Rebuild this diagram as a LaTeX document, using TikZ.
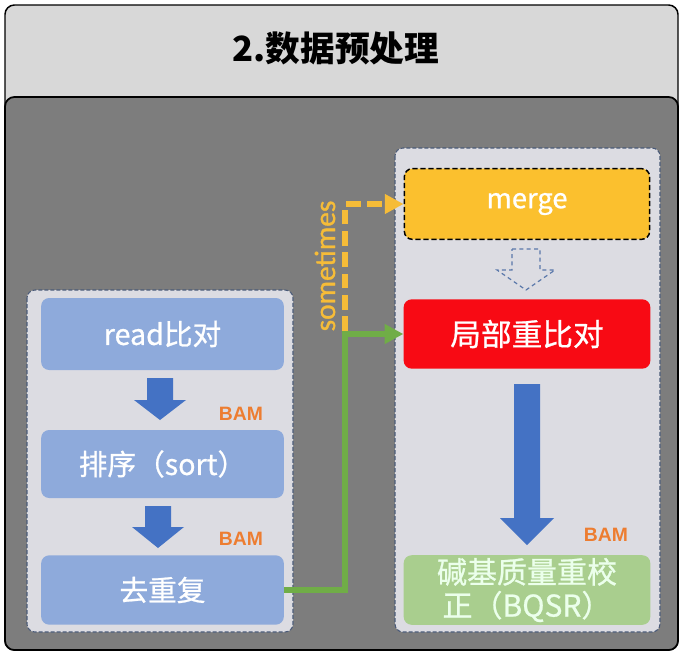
\documentclass[tikz,border=0pt]{standalone}
\usepackage{fontspec}
\setmainfont{Noto Sans CJK SC}
\newfontfamily\boxfont{Noto Sans CJK SC}[FakeBold=0.8]
\newfontfamily\calfont{Carlito}[FakeBold=1]
\newfontfamily\bamfont{Liberation Sans}
\usetikzlibrary{arrows.meta}
\definecolor{topgray}{HTML}{D8D8D8}
\definecolor{backgray}{HTML}{7D7D7D}
\definecolor{groupfill}{HTML}{DCDCE2}
\definecolor{groupline}{HTML}{4A5A78}
\definecolor{boxblue}{HTML}{8EAADB}
\definecolor{arrowblue}{HTML}{4472C4}
\definecolor{hollowline}{HTML}{5A78AA}
\definecolor{mergeyellow}{HTML}{FBC02E}
\definecolor{realignred}{HTML}{F80A14}
\definecolor{bqsrgreen}{HTML}{A9CE8E}
\definecolor{linkgreen}{HTML}{70AD47}
\definecolor{linkyellow}{HTML}{F6BC38}
\definecolor{bamorange}{HTML}{ED7D31}
\tikzset{
  stepbox/.style={rectangle, rounded corners=6pt, minimum width=182pt, minimum height=52pt, text=white, font=\boxfont\fontsize{21.5}{25}\selectfont, inner sep=2pt},
  groupbox/.style={draw=groupline, fill=groupfill, dashed, dash pattern=on 3pt off 1.5pt, line width=0.8pt, rounded corners=6pt},
  bamlabel/.style={text=bamorange, font=\bamfont\bfseries\fontsize{14.5}{16}\selectfont, inner sep=0pt},
  blockarrow/.style={fill=arrowblue},
  link/.style={line width=4.2pt, rounded corners=0pt},
}
\newcommand{\downblock}[7]{%
  % #1 style, #2 x, #3 ytop, #4 yhead, #5 ytip, #6 half shaft, #7 half head
  \path[#1] (#2-#6,#3) -- (#2+#6,#3) -- (#2+#6,#4) -- (#2+#7,#4) -- (#2,#5) -- (#2-#7,#4) -- (#2-#6,#4) -- cycle;}
\begin{document}
\begin{tikzpicture}[x=0.75pt,y=-0.75pt]
\useasboundingbox (0,0) rectangle (683,654);
\fill[white] (0,0) rectangle (683,654);
% outer frames
\draw[fill=topgray, rounded corners=7pt, line width=1.1pt] (5,5) rectangle (678,650);
\node[font=\bfseries\fontsize{26}{30}\selectfont, text=black] (title) at (336,48) {2.数据预处理};
\draw[fill=backgray, rounded corners=7pt, line width=1.3pt] (5,97) rectangle (678,650);
% groups
\draw[groupbox] (27,290) rectangle (293,632);
\draw[groupbox] (395,148) rectangle (660,632);
% left column
\node[stepbox, fill=boxblue, minimum height=54pt] (read) at (162.5,334) {read比对};
\node[stepbox, fill=boxblue, minimum height=51pt] (sort) at (162.5,464) {排序（sort）};
\node[stepbox, fill=boxblue, minimum height=52pt] (dedup) at (162.5,590) {去重复};
\downblock{blockarrow}{160}{378}{400}{420}{13}{26}
\downblock{blockarrow}{158}{506}{527}{548}{13}{26}
\node[bamlabel] (bam1) at (241,414) {BAM};
\node[bamlabel] (bam2) at (241,539) {BAM};
% right column
\node[stepbox, fill=mergeyellow, draw=black, dashed, dash pattern=on 4pt off 2pt, line width=1.1pt, minimum width=184pt, minimum height=53pt, font=\boxfont\fontsize{20.5}{24}\selectfont] (merge) at (527,204) {merge};
\node[stepbox, fill=realignred, minimum width=185pt, font=\boxfont\fontsize{23}{27}\selectfont] (realign) at (527,334) {局部重比对};
\node[stepbox, fill=bqsrgreen, minimum width=185pt, font=\boxfont\fontsize{22.5}{25}\selectfont, align=center, text=white!92!green] (bqsr) at (527,590) {碱基质量重校\\正（BQSR）};
\downblock{draw=hollowline, dashed, dash pattern=on 3pt off 2.5pt, line width=0.9pt}{526}{249}{270}{290}{14}{29}
\downblock{blockarrow}{527}{384}{518}{545}{13}{27}
\node[bamlabel] (bam3) at (606,535) {BAM};
% connectors
\coordinate (branch) at (345,334);
\coordinate (ystart) at (345,331);
\draw[link, draw=linkyellow, dash pattern=on 11pt off 5pt, -{Triangle[length=14pt,width=14pt]}] (ystart) |- (merge.west);
\draw[link, draw=linkgreen, -{Triangle[length=14pt,width=14pt]}] (dedup.east) -| (branch) -- (realign.west);
\node[rotate=90, text=linkyellow, font=\calfont\fontsize{22}{24}\selectfont, inner sep=0pt] (sometimes) at (325,266) {sometimes};
\end{tikzpicture}
\end{document}
